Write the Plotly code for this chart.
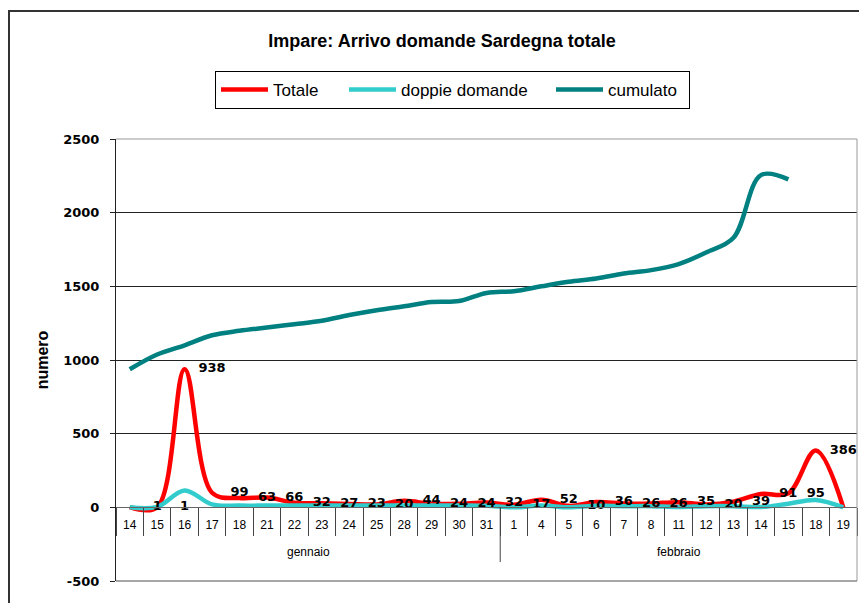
import plotly.graph_objects as go

months = ['gennaio'] * 14 + ['febbraio'] * 13
days = ['14', '15', '16', '17', '18', '21', '22', '23', '24', '25', '28', '29', '30', '31',
        '1', '4', '5', '6', '7', '8', '11', '12', '13', '14', '15', '18', '19']
month_names = ['gennaio', 'febbraio']

totale = [1, 1, 938, 99, 63, 66, 32, 27, 23, 20, 44, 24, 24, 32,
          17, 52, 10, 36, 26, 26, 35, 20, 39, 91, 95, 386, 0]
doppie = [0, 3, 115, 20, 12, 12, 12, 12, 12, 12, 12, 12, 12, 10,
          0, 12, 0, 10, 8, 8, 2, 8, 8, 2, 25, 50, 0]
cumulato = [937, 1037, 1100, 1168, 1198, 1220, 1243, 1266, 1305, 1338, 1365, 1393, 1400, 1455,
            1467, 1500, 1531, 1553, 1587, 1610, 1651, 1730, 1830, 2255, 2226, None, None]

yticks = [-500, 0, 500, 1000, 1500, 2000, 2500]

cats = [m + ' ' + d for m, d in zip(months, days)]

W, H = 859, 603
L, R, T, B = 116, 2, 139, 22
PW, PH = W - L - R, H - T - B

def px(x):
    return (x - L) / PW

def py(y):
    return (H - B - y) / PH

fig = go.Figure()
fig.add_trace(go.Scatter(x=cats, y=totale, name='Totale', mode='lines', legendwidth=66,
                         line=dict(color='#FF0000', width=4.5, shape='spline', smoothing=1)))
fig.add_trace(go.Scatter(x=cats, y=doppie, name='doppie domande', mode='lines', legendwidth=145,
                         line=dict(color='#33CCCC', width=4.5, shape='spline', smoothing=1)))
fig.add_trace(go.Scatter(x=cats, y=cumulato, name='cumulato', mode='lines', legendwidth=76,
                         line=dict(color='#008080', width=4.5, shape='spline', smoothing=1)))
# data labels (shown one category to the right, as in the original)
fig.add_trace(go.Scatter(x=cats[1:], y=totale[:-1], mode='text',
                         text=[str(v) for v in totale[:-1]], showlegend=False,
                         textposition='middle center', cliponaxis=False,
                         textfont=dict(family='DejaVu Sans', size=13, color='black', weight='bold'),
                         hoverinfo='skip'))

fig.update_layout(
    width=W, height=H,
    margin=dict(l=L, r=R, t=T, b=B, autoexpand=False),
    paper_bgcolor='white', plot_bgcolor='white',
    title=dict(text='Impare: Arrivo domande Sardegna totale',
               font=dict(family='Liberation Sans', size=18, color='black', weight='bold'),
               x=442 / W, xref='container', xanchor='center',
               y=1 - 41 / H, yref='container', yanchor='middle'),
    legend=dict(orientation='h', x=px(215), xanchor='left', y=py(71), yanchor='top',
                font=dict(family='Liberation Sans', size=17, color='black'),
                bordercolor='black', borderwidth=1, bgcolor='white',
                itemwidth=47),
    showlegend=True,
)

fig.update_xaxes(type='category', categoryorder='array', categoryarray=cats,
                 tickvals=cats, ticktext=days, range=[-0.5, len(cats) - 0.5],
                 anchor='free', position=py(507), automargin=False,
                 showline=True, linecolor='#666666', linewidth=1,
                 ticks='outside', tickson='boundaries', ticklen=28, tickcolor='#444444',
                 ticklabelstandoff=7,
                 tickfont=dict(family='Liberation Sans', size=12, color='black'),
                 showgrid=False, zeroline=False)

fig.update_yaxes(range=[-500, 2500], tickvals=yticks, ticktext=[str(v) for v in yticks],
                 automargin=False,
                 showgrid=True, gridcolor='#222222', gridwidth=1, zeroline=False,
                 showline=True, linecolor='#222222', linewidth=1,
                 ticks='outside', ticklen=5, tickcolor='#222222', ticklabelstandoff=8,
                 tickfont=dict(family='DejaVu Sans', size=13, color='black', weight='bold'),
                 title=dict(text='numero', standoff=10,
                            font=dict(family='Liberation Sans', size=16, color='black', weight='bold')))

# month group labels and divider on the category axis
n_jan = months.count('gennaio')
annotations = [
    dict(x=(n_jan - 1) / 2, xref='x', y=py(552), yref='paper', yanchor='middle',
         text=month_names[0], showarrow=False,
         font=dict(family='Liberation Sans', size=12, color='black')),
    dict(x=n_jan + (len(cats) - n_jan - 1) / 2, xref='x', y=py(552), yref='paper', yanchor='middle',
         text=month_names[1], showarrow=False,
         font=dict(family='Liberation Sans', size=12, color='black')),
]

shapes = [
    dict(type='line', xref='x', yref='paper', x0=n_jan - 0.5, x1=n_jan - 0.5, y0=py(507), y1=py(562),
         line=dict(color='#444444', width=1)),
    dict(type='rect', xref='paper', yref='paper', x0=px(9), x1=px(870), y0=py(640), y1=py(11),
         line=dict(color='#333333', width=2), fillcolor='rgba(0,0,0,0)', layer='above'),
    dict(type='line', xref='paper', yref='paper', x0=1, x1=1, y0=0, y1=1,
         line=dict(color='#999999', width=1)),
    dict(type='line', xref='paper', yref='paper', x0=0, x1=1, y0=1, y1=1,
         line=dict(color='#999999', width=1)),
    dict(type='line', xref='paper', yref='paper', x0=0, x1=1, y0=0, y1=0,
         line=dict(color='#888888', width=1.5)),
]
fig.update_layout(shapes=shapes, annotations=annotations)

fig.write_html('out.html', config={'displayModeBar': False},
               post_script="document.body.style.margin='0';")
